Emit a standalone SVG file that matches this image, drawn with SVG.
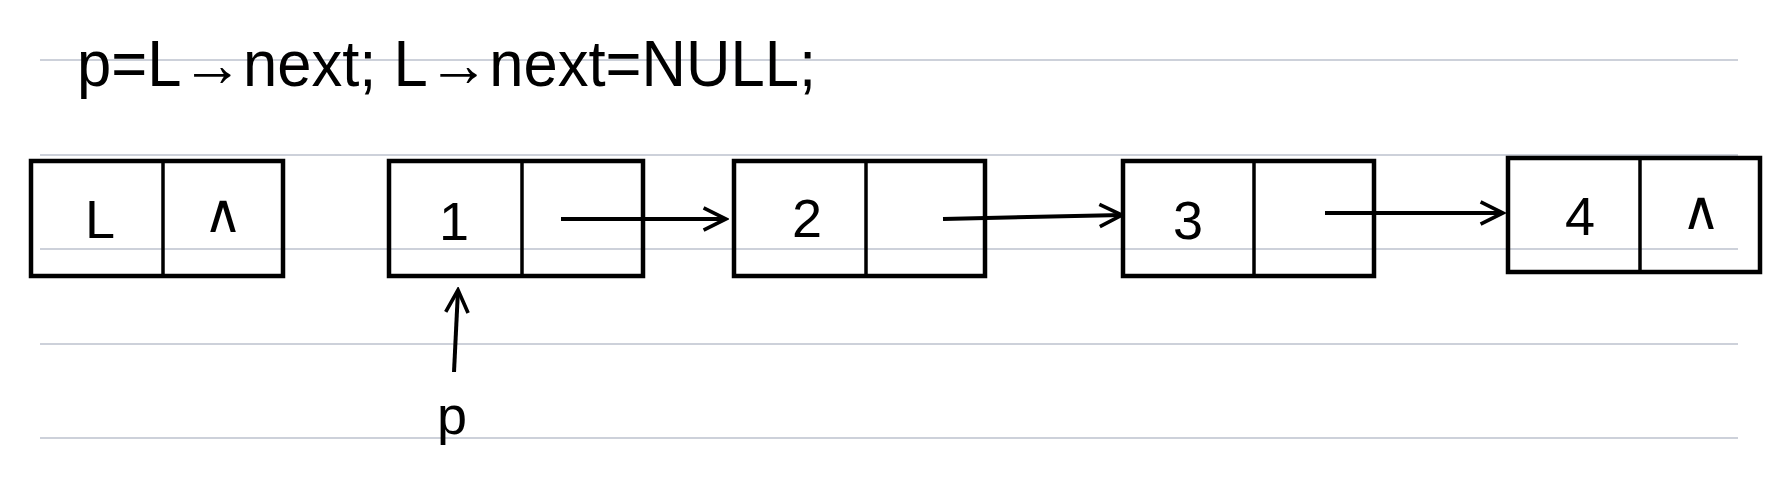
<svg xmlns="http://www.w3.org/2000/svg" width="1778" height="492" viewBox="0 0 1778 492">
<style>
.rule{stroke:#cdd1da;stroke-width:2}
.box{fill:none;stroke:#000;stroke-width:4.5}
.div{stroke:#000;stroke-width:3.5}
.lbl{font-family:"Liberation Sans","DejaVu Sans",sans-serif;font-size:54px;fill:#000;text-anchor:middle}
.title{font-family:"Liberation Sans","DejaVu Sans",sans-serif;font-size:64px;fill:#000}
.conn{stroke:#000;stroke-width:4;fill:none;marker-end:url(#ah)}
</style>
<defs>
<marker id="ah" viewBox="0 0 20 20" refX="18" refY="10" markerWidth="28" markerHeight="28" markerUnits="userSpaceOnUse" orient="auto">
<polyline points="2,2 18,10 2,18" fill="none" stroke="#000" stroke-width="2.6"/>
</marker>
</defs>
<rect width="1778" height="492" fill="#fff"/>
<g id="rules">
<line class="rule" x1="40" y1="60" x2="1738" y2="60"/>
<line class="rule" x1="40" y1="155" x2="1738" y2="155"/>
<line class="rule" x1="40" y1="249" x2="1738" y2="249"/>
<line class="rule" x1="40" y1="344" x2="1738" y2="344"/>
<line class="rule" x1="40" y1="438" x2="1738" y2="438"/>
</g>
<text class="title" x="77" y="86" textLength="739" lengthAdjust="spacingAndGlyphs">p=L→next;  L→next=NULL;</text>
<g id="nodeL">
<rect class="box" x="31" y="161" width="252" height="115"/>
<line class="div" x1="163" y1="161" x2="163" y2="276"/>
<text class="lbl" x="100" y="238">L</text>
<text class="lbl" x="223" y="232">∧</text>
</g>
<g id="node1">
<rect class="box" x="389" y="161" width="254" height="115"/>
<line class="div" x1="522" y1="161" x2="522" y2="276"/>
<text class="lbl" x="454" y="240">1</text>
</g>
<g id="node2">
<rect class="box" x="734" y="161" width="251" height="115"/>
<line class="div" x1="866" y1="161" x2="866" y2="276"/>
<text class="lbl" x="807" y="237">2</text>
</g>
<g id="node3">
<rect class="box" x="1123" y="161" width="251" height="115"/>
<line class="div" x1="1254" y1="161" x2="1254" y2="276"/>
<text class="lbl" x="1188" y="239">3</text>
</g>
<g id="node4">
<rect class="box" x="1508" y="158" width="252" height="114"/>
<line class="div" x1="1640" y1="158" x2="1640" y2="272"/>
<text class="lbl" x="1580" y="235">4</text>
<text class="lbl" x="1701" y="229">∧</text>
</g>
<g id="connectors">
<line class="conn" x1="561" y1="219" x2="726" y2="219"/>
<line class="conn" x1="943" y1="219" x2="1122" y2="215"/>
<line class="conn" x1="1325" y1="213" x2="1503" y2="213"/>
<line class="conn" x1="454" y1="372" x2="458" y2="290"/>
</g>
<g id="pointerP">
<text class="lbl" x="452" y="434">p</text>
</g>
</svg>
